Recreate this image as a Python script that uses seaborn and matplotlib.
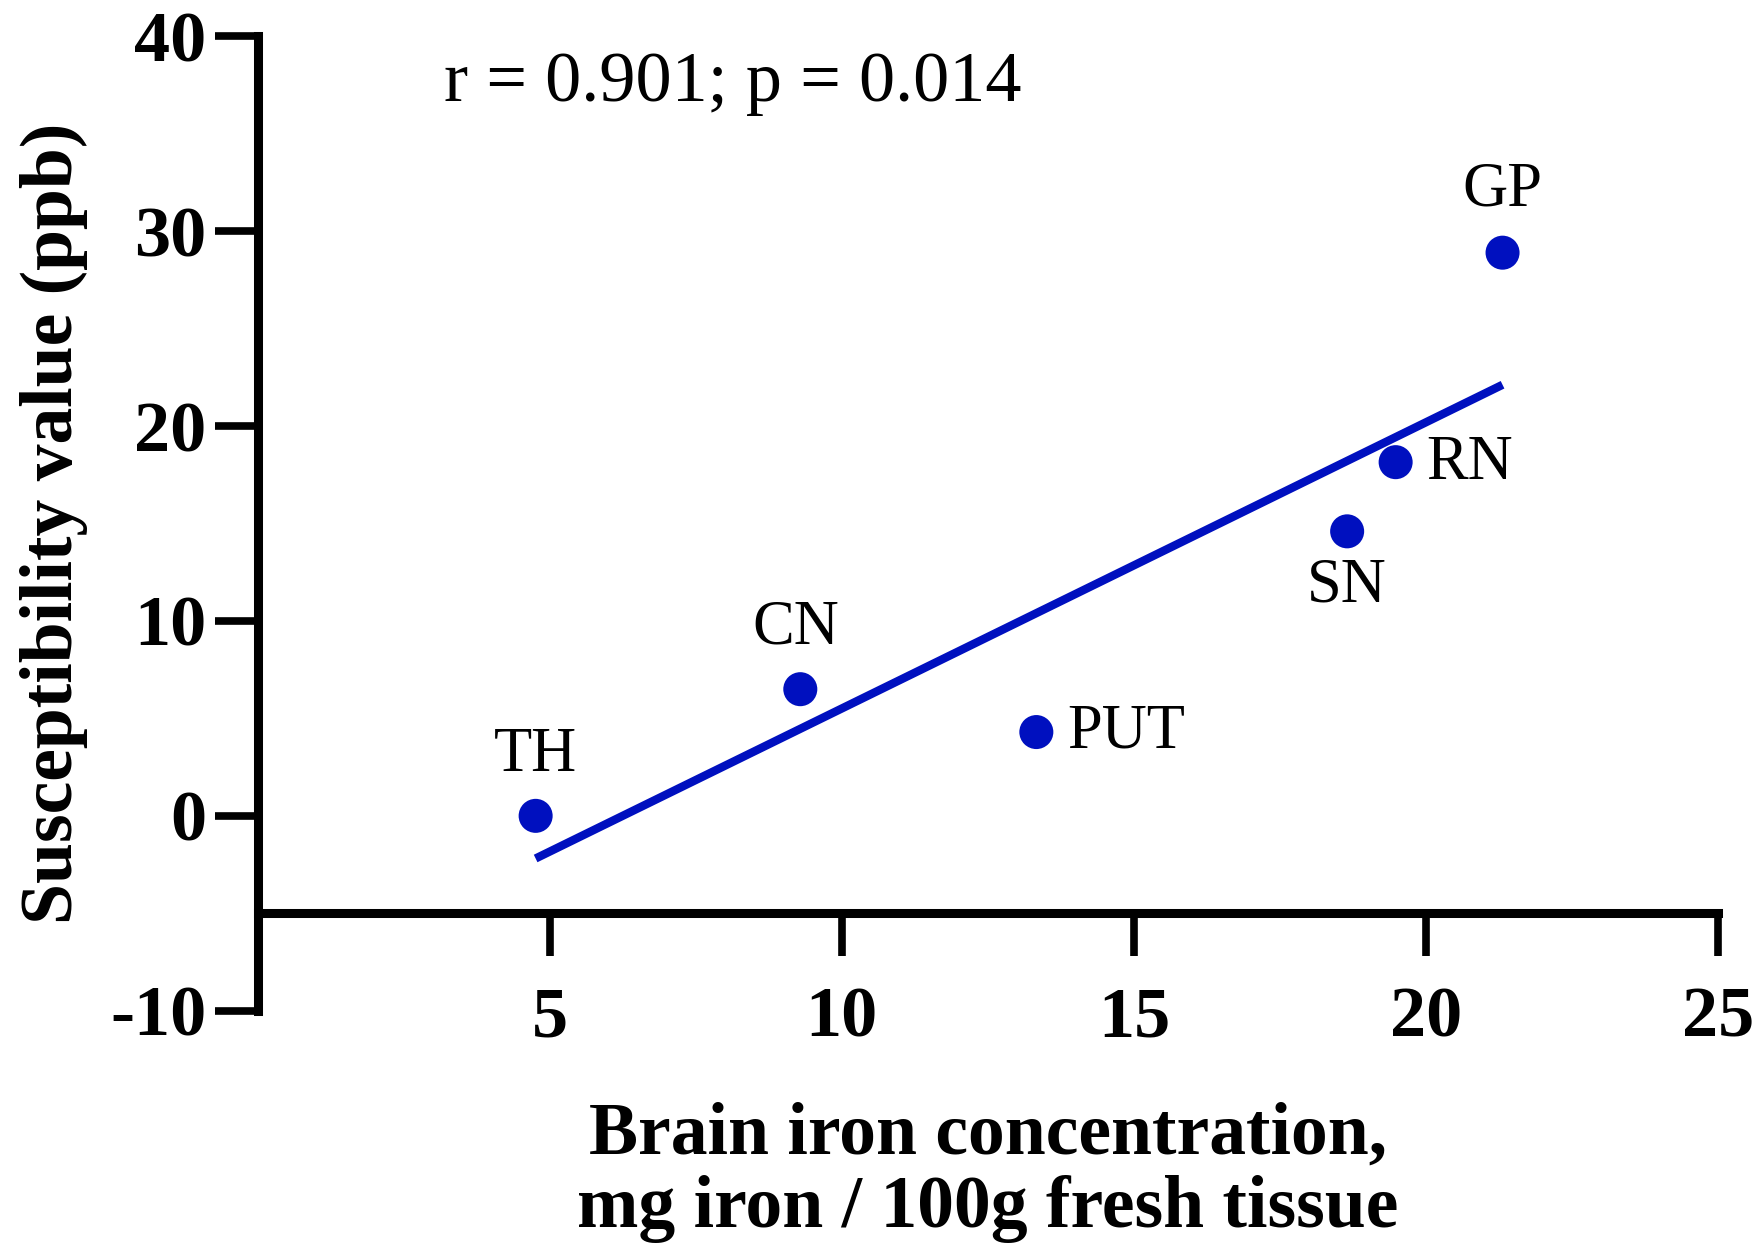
import numpy as np
import pandas as pd
import seaborn as sns
import matplotlib
matplotlib.use("Agg")
import matplotlib.pyplot as plt

sns.set_style("ticks")
plt.rcParams["font.family"] = ["Liberation Serif", "DejaVu Serif"]
plt.rcParams["axes.unicode_minus"] = False
plt.rcParams["text.color"] = "black"
plt.rcParams["axes.labelcolor"] = "black"

# values
regions = ["TH", "CN", "PUT", "SN", "RN", "GP"]
iron = [4.76, 9.29, 13.33, 18.65, 19.48, 21.31]        # mg iron / 100 g fresh tissue
suscept = [0.0, 6.5, 4.3, 14.6, 18.15, 28.9]           # ppb
stat_text = "r = 0.901; p = 0.014"

# where each label sits relative to its point (offset in points, ha, va)
label_pos = {
    "TH": ((0, 43), "center", "center"),
    "CN": ((-3, 44), "center", "center"),
    "PUT": ((22, 0), "left", "center"),
    "SN": ((0, -40), "center", "center"),
    "RN": ((22, -1), "left", "center"),
    "GP": ((0, 45), "center", "center"),
}

df = pd.DataFrame({"region": regions, "iron": iron, "suscept": suscept})
blue = "#0010BF"

fig = plt.figure(figsize=(17.64, 12.54), dpi=100)
ax = fig.add_axes([0.146, 0.194, 0.828, 0.777])

# fitted line across the data range
sns.regplot(data=df, x="iron", y="suscept", ci=None, scatter=False, truncate=True,
            line_kws=dict(color=blue, linewidth=6, solid_capstyle="butt"), ax=ax)
sns.scatterplot(data=df, x="iron", y="suscept", s=600, color=blue,
                edgecolor="none", zorder=3, ax=ax)

for _, row in df.iterrows():
    off, ha, va = label_pos[row["region"]]
    ax.annotate(row["region"], (row["iron"], row["suscept"]), xytext=off,
                textcoords="offset points", ha=ha, va=va, fontsize=45,
                color="black")

ax.text(3.2, 37.6, stat_text, ha="left", va="center", fontsize=52, color="black")

ax.set_xlim(0, 25)
ax.set_ylim(-10, 40)
ax.set_xticks([5, 10, 15, 20, 25])
ax.set_yticks([-10, 0, 10, 20, 30, 40])

ax.spines["right"].set_visible(False)
ax.spines["top"].set_visible(False)
ax.spines["bottom"].set_position(("data", -5))
for s in ["left", "bottom"]:
    ax.spines[s].set_linewidth(6.5)
    ax.spines[s].set_color("black")

ax.tick_params(axis="both", direction="out", length=31, width=5.5, colors="black",
               labelsize=52)
ax.tick_params(axis="x", pad=22)
ax.tick_params(axis="y", pad=6)
for lab in ax.get_xticklabels() + ax.get_yticklabels():
    lab.set_fontweight("bold")

ax.set_xlabel("Brain iron concentration,\nmg iron / 100g fresh tissue",
              fontsize=53, fontweight="bold", labelpad=36, linespacing=1.1)
ax.set_ylabel("Susceptibility value (ppb)", fontsize=53, fontweight="bold",
              labelpad=16)

fig.savefig("out.png", dpi=100)
